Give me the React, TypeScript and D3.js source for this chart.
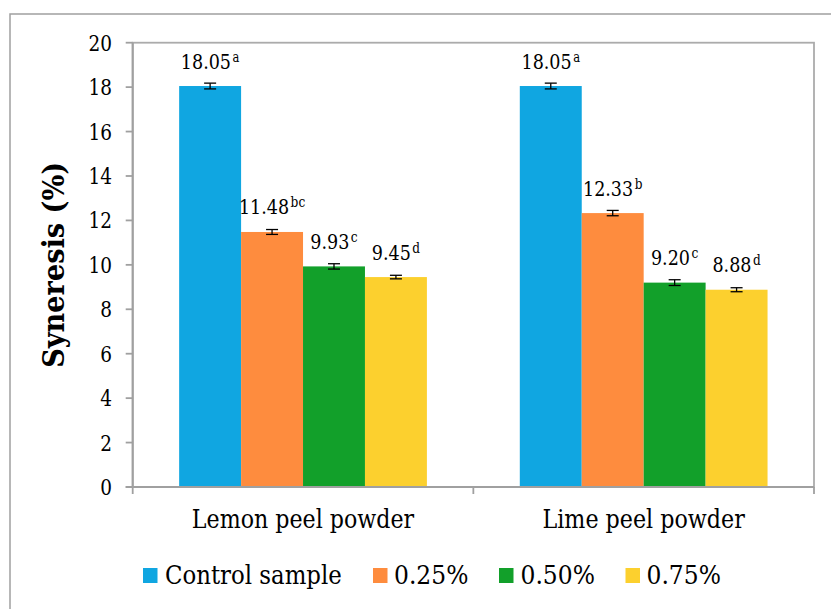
import React from "react";
import * as d3 from "d3";

const categories = ["Lemon peel powder", "Lime peel powder"];
const seriesNames = ["Control sample", "0.25%", "0.50%", "0.75%"];
const seriesColors = ["#10a6e1", "#fe8c3e", "#12a02a", "#fcd02e"];
const lemonValues = [18.05, 11.48, 9.93, 9.45];
const limeValues = [18.05, 12.33, 9.2, 8.88];
const lemonErrors = [0.13, 0.11, 0.12, 0.08];
const limeErrors = [0.13, 0.12, 0.13, 0.09];
const lemonLetters = ["a", "bc", "c", "d"];
const limeLetters = ["a", "b", "c", "d"];
const yTicks = [0, 2, 4, 6, 8, 10, 12, 14, 16, 18, 20];

const W = 831;
const H = 609;
const FONT = "'DejaVu Serif', serif";

// Times-like advance widths (em) used to size condensed DejaVu Serif text
const TIMES: Record<string, number> = {
  "0": 0.5, "1": 0.5, "2": 0.5, "3": 0.5, "4": 0.5, "5": 0.5, "6": 0.5, "7": 0.5, "8": 0.5, "9": 0.5,
  ".": 0.25, "%": 0.833, " ": 0.25, a: 0.444, b: 0.5, c: 0.444, d: 0.5, e: 0.444, i: 0.278, l: 0.278,
  m: 0.778, n: 0.5, o: 0.5, p: 0.5, r: 0.333, s: 0.389, t: 0.278, w: 0.722, C: 0.667, L: 0.611,
};
const tw = (s: string, size: number) =>
  s.split("").reduce((acc, ch) => acc + (TIMES[ch] ?? 0.5), 0) * size;

export default function App() {
  const left = 132.7;
  const right = 814;
  const top = 42.7;
  const bottom = 487;

  const x0 = d3.scaleBand<string>().domain(categories).range([left, right]).padding(0);
  const x1 = d3
    .scaleBand<string>()
    .domain(seriesNames)
    .range([0, x0.bandwidth()])
    .paddingInner(0)
    .paddingOuter(0.75);
  const y = d3.scaleLinear().domain([0, 20]).range([bottom, top]);

  const groups = [
    { cat: categories[0], values: lemonValues, errors: lemonErrors, letters: lemonLetters },
    { cat: categories[1], values: limeValues, errors: limeErrors, letters: limeLetters },
  ];

  const legendItems = [
    { sq: 143, tx: 165 },
    { sq: 373, tx: 394 },
    { sq: 499, tx: 520.5 },
    { sq: 625.5, tx: 646.5 },
  ];

  const tf = { fontFamily: FONT };

  return (
    <svg
      width={W}
      height={H}
      style={{ position: "absolute", left: 0, top: 0, background: "#fff", fontFamily: FONT }}
    >
      <rect x={0} y={0} width={W} height={H} fill="#fff" />
      <rect x={10} y={14} width={W + 20} height={H + 20} fill="none" stroke="#a0a0a0" strokeWidth={1.5} />
      <rect x={left} y={top} width={right - left} height={bottom - top} fill="none" stroke="#ababab" strokeWidth={1.8} />

      {groups.map((g) =>
        seriesNames.map((s, i) => {
          const bx = (x0(g.cat) as number) + (x1(s) as number);
          const bw = x1.bandwidth();
          const v = g.values[i];
          return (
            <rect key={g.cat + s} x={bx} y={y(v)} width={bw} height={bottom - y(v)} fill={seriesColors[i]} />
          );
        })
      )}

      <line x1={left} y1={top} x2={left} y2={bottom} stroke="#a0a0a0" strokeWidth={2} />
      <line x1={left - 7} y1={bottom} x2={right} y2={bottom} stroke="#a0a0a0" strokeWidth={2} />
      {yTicks.map((t) => (
        <g key={t}>
          <line x1={left - 7} y1={y(t)} x2={left} y2={y(t)} stroke="#a0a0a0" strokeWidth={1.8} />
          <text
            x={112}
            y={y(t) + 8}
            textAnchor="end"
            fontSize={22}
            fill="#000"
            style={tf}
            textLength={tw(String(t), 23.5)}
            lengthAdjust="spacingAndGlyphs"
          >
            {t}
          </text>
        </g>
      ))}
      {[left, x0(categories[1]) as number, right].map((tx, i) => (
        <line key={i} x1={tx} y1={bottom} x2={tx} y2={bottom + 7} stroke="#a0a0a0" strokeWidth={1.8} />
      ))}

      {groups.map((g) =>
        seriesNames.map((s, i) => {
          const cx = (x0(g.cat) as number) + (x1(s) as number) + x1.bandwidth() / 2;
          const v = g.values[i];
          const e = g.errors[i];
          const num = v.toFixed(2);
          const numW = tw(num, 22.3);
          const supW = tw(g.letters[i], 15.5);
          const gap = 1.5;
          const sx = cx - (numW + gap + supW) / 2;
          const by = y(v) - 17.5;
          return (
            <g key={"e" + g.cat + s}>
              <line x1={cx} y1={y(v + e)} x2={cx} y2={y(v - e)} stroke="#000" strokeWidth={1.3} />
              <line x1={cx - 6} y1={y(v + e)} x2={cx + 6} y2={y(v + e)} stroke="#000" strokeWidth={1.3} />
              <line x1={cx - 6} y1={y(v - e)} x2={cx + 6} y2={y(v - e)} stroke="#000" strokeWidth={1.3} />
              <text x={sx} y={by} fontSize={21} fill="#000" style={tf}>
                <tspan textLength={numW} lengthAdjust="spacingAndGlyphs">
                  {num}
                </tspan>
                <tspan
                  x={sx + numW + gap}
                  dy={-7}
                  fontSize={14.5}
                  textLength={supW}
                  lengthAdjust="spacingAndGlyphs"
                >
                  {g.letters[i]}
                </tspan>
              </text>
            </g>
          );
        })
      )}

      {categories.map((c) => (
        <text
          key={c}
          x={(x0(c) as number) + x0.bandwidth() / 2}
          y={528}
          textAnchor="middle"
          fontSize={25.5}
          fill="#000"
          style={tf}
          textLength={tw(c, 27.8)}
          lengthAdjust="spacingAndGlyphs"
        >
          {c}
        </text>
      ))}

      <text
        transform={`translate(64, ${(top + bottom) / 2}) rotate(-90)`}
        textAnchor="middle"
        fontSize={30.5}
        fontWeight="bold"
        fill="#000"
        style={tf}
        textLength={206}
        lengthAdjust="spacingAndGlyphs"
      >
        Syneresis (%)
      </text>

      {seriesNames.map((s, i) => (
        <g key={"l" + s}>
          <rect x={legendItems[i].sq} y={568} width={14.5} height={15} fill={seriesColors[i]} />
          <text
            x={legendItems[i].tx}
            y={584}
            fontSize={26}
            fill="#000"
            style={tf}
            textLength={tw(s, 28.8)}
            lengthAdjust="spacingAndGlyphs"
          >
            {s}
          </text>
        </g>
      ))}
    </svg>
  );
}
